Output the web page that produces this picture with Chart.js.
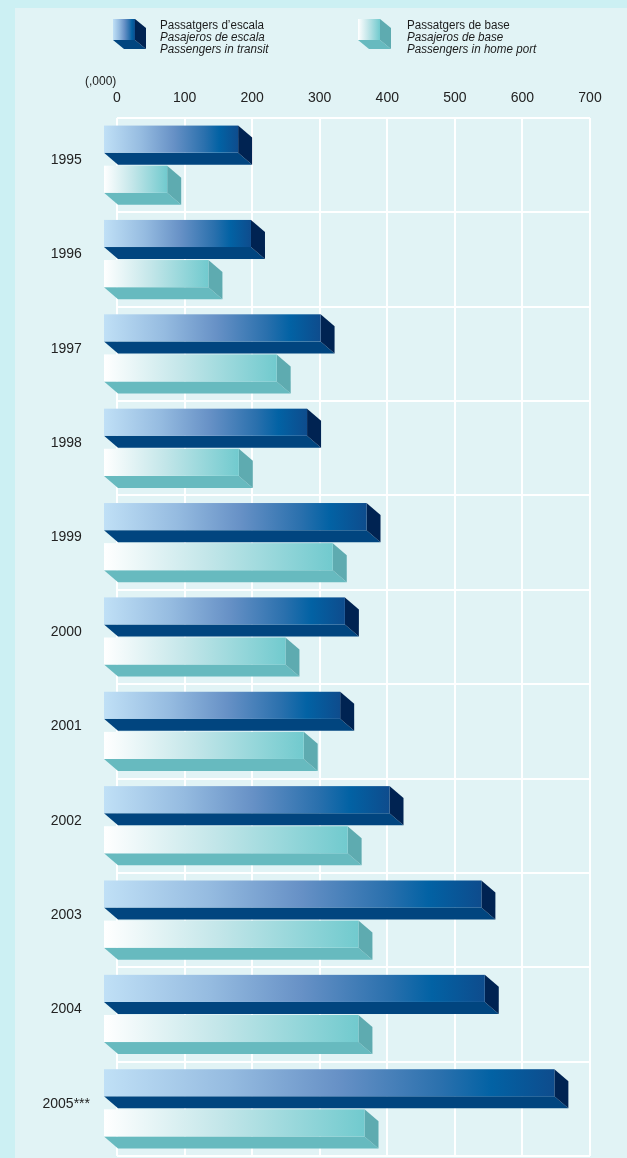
<!DOCTYPE html>
<html>
<head>
<meta charset="utf-8">
<script src="https://cdn.jsdelivr.net/npm/chart.js@4.4.1/dist/chart.umd.min.js"></script>
<style>
  html, body { margin: 0; padding: 0; background: #ccf0f3; }
  #wrap { position: relative; width: 627px; height: 1158px; overflow: hidden; }
  #panel { position: absolute; left: 15px; top: 8px; right: 0; bottom: 0; background: #e1f3f5; }
  #chart { position: absolute; left: 0; top: 0; }
  .txt {
    position: absolute; white-space: nowrap; color: #1c1c1c;
    font-family: "Liberation Sans", Arial, sans-serif;
    font-size: 12.5px; line-height: 14px;
    transform: scaleX(0.93); transform-origin: left top;
  }
  .it { font-style: italic; }
  #unit { font-size: 12px; transform: none; }
</style>
</head>
<body>
<div id="wrap">
  <div id="panel"></div>
  <canvas id="chart" width="627" height="1158"></canvas>

  <div class="txt" style="left:160px;top:18px">Passatgers d’escala</div>
  <div class="txt it" style="left:160px;top:30px">Pasajeros de escala</div>
  <div class="txt it" style="left:160px;top:42px">Passengers in transit</div>

  <div class="txt" style="left:407px;top:18px">Passatgers de base</div>
  <div class="txt it" style="left:407px;top:30px">Pasajeros de base</div>
  <div class="txt it" style="left:407px;top:42px">Passengers in home port</div>

  <div class="txt" id="unit" style="left:85px;top:74px">(,000)</div>
</div>

<script>
// passengers, thousands
const years = ['1995', '1996', '1997', '1998', '1999', '2000', '2001', '2002', '2003', '2004', '2005***'];
const transit = [200, 219, 322, 302, 390, 358, 351, 424, 560, 565, 668];
const homePort = [95, 156, 257, 201, 340, 270, 297, 362, 378, 378, 387];
const xTicks = [0, 100, 200, 300, 400, 500, 600, 700];

const FONT = '"Liberation Sans", Arial, sans-serif';

const palettes = [
  {
    stops: [[0, '#c0e0f6'], [0.28, '#95bbe0'], [0.52, '#6791c6'], [0.75, '#2a70ad'], [0.86, '#0262a4'], [1, '#0e4c8d']],
    bottom: '#01457f',
    side: '#002352'
  },
  {
    stops: [[0, '#ffffff'], [0.45, '#c3e6e9'], [1, '#71cace']],
    bottom: '#67babf',
    side: '#5eabb0'
  }
];

// extruded block: x0/x1 are the back edge, front face pushed up-left by dx/dy
function drawBlock(ctx, x0, x1, top, faceH, dx, dy, pal) {
  const fx0 = x0 - dx, fx1 = x1 - dx;
  ctx.fillStyle = pal.bottom;
  ctx.beginPath();
  ctx.moveTo(fx0, top + faceH);
  ctx.lineTo(fx1, top + faceH);
  ctx.lineTo(x1, top + faceH + dy);
  ctx.lineTo(x0, top + faceH + dy);
  ctx.closePath();
  ctx.fill();

  ctx.fillStyle = pal.side;
  ctx.beginPath();
  ctx.moveTo(fx1, top);
  ctx.lineTo(x1, top + dy);
  ctx.lineTo(x1, top + faceH + dy);
  ctx.lineTo(fx1, top + faceH);
  ctx.closePath();
  ctx.fill();

  const g = ctx.createLinearGradient(fx0, 0, fx1, 0);
  pal.stops.forEach(([o, c]) => g.addColorStop(o, c));
  ctx.fillStyle = g;
  ctx.fillRect(fx0, top, fx1 - fx0, faceH);
}

const blocks3d = {
  id: 'blocks3d',
  afterDatasetsDraw(chart) {
    const ctx = chart.ctx;
    ctx.save();
    chart.data.datasets.forEach((ds, di) => {
      const meta = chart.getDatasetMeta(di);
      meta.data.forEach(el => {
        const p = el.getProps(['x', 'y', 'base', 'height'], true);
        const top = p.y - p.height / 2;
        drawBlock(ctx, p.base, p.x, top, p.height - 12, 14, 12, palettes[di]);
      });
    });
    // legend swatches
    drawBlock(ctx, 124, 146, 19, 21, 11, 9, palettes[0]);
    drawBlock(ctx, 369, 391, 19, 21, 11, 9, palettes[1]);
    ctx.restore();
  }
};

new Chart(document.getElementById('chart'), {
  type: 'bar',
  data: {
    labels: years,
    datasets: [
      { label: 'Passengers in transit', data: transit, backgroundColor: 'rgba(0,0,0,0)', borderWidth: 0 },
      { label: 'Passengers in home port', data: homePort, backgroundColor: 'rgba(0,0,0,0)', borderWidth: 0 }
    ]
  },
  options: {
    responsive: false,
    animation: false,
    indexAxis: 'y',
    categoryPercentage: 0.85,
    barPercentage: 0.975,
    layout: { padding: { left: 15, right: 37, top: 0, bottom: 2 } },
    plugins: { legend: { display: false }, tooltip: { enabled: false } },
    scales: {
      x: {
        position: 'top',
        min: 0,
        max: 700,
        afterBuildTicks(scale) { scale.ticks = xTicks.map(v => ({ value: v })); },
        afterFit(scale) { scale.height = 118; },
        ticks: { padding: 11, color: '#222', font: { family: FONT, size: 14 } },
        grid: { color: '#ffffff', lineWidth: 2, drawTicks: false },
        border: { display: false }
      },
      y: {
        // the tick padding would otherwise be reserved above and below the plot
        afterFit(scale) { scale.width = 102; scale.paddingTop = 0; scale.paddingBottom = 0; },
        ticks: { padding: 27, crossAlign: 'center', labelOffset: -5, color: '#222', font: { family: FONT, size: 14 } },
        grid: { color: '#ffffff', lineWidth: 2, drawTicks: false, offset: true },
        border: { display: false }
      }
    }
  },
  plugins: [blocks3d]
});
</script>
</body>
</html>
